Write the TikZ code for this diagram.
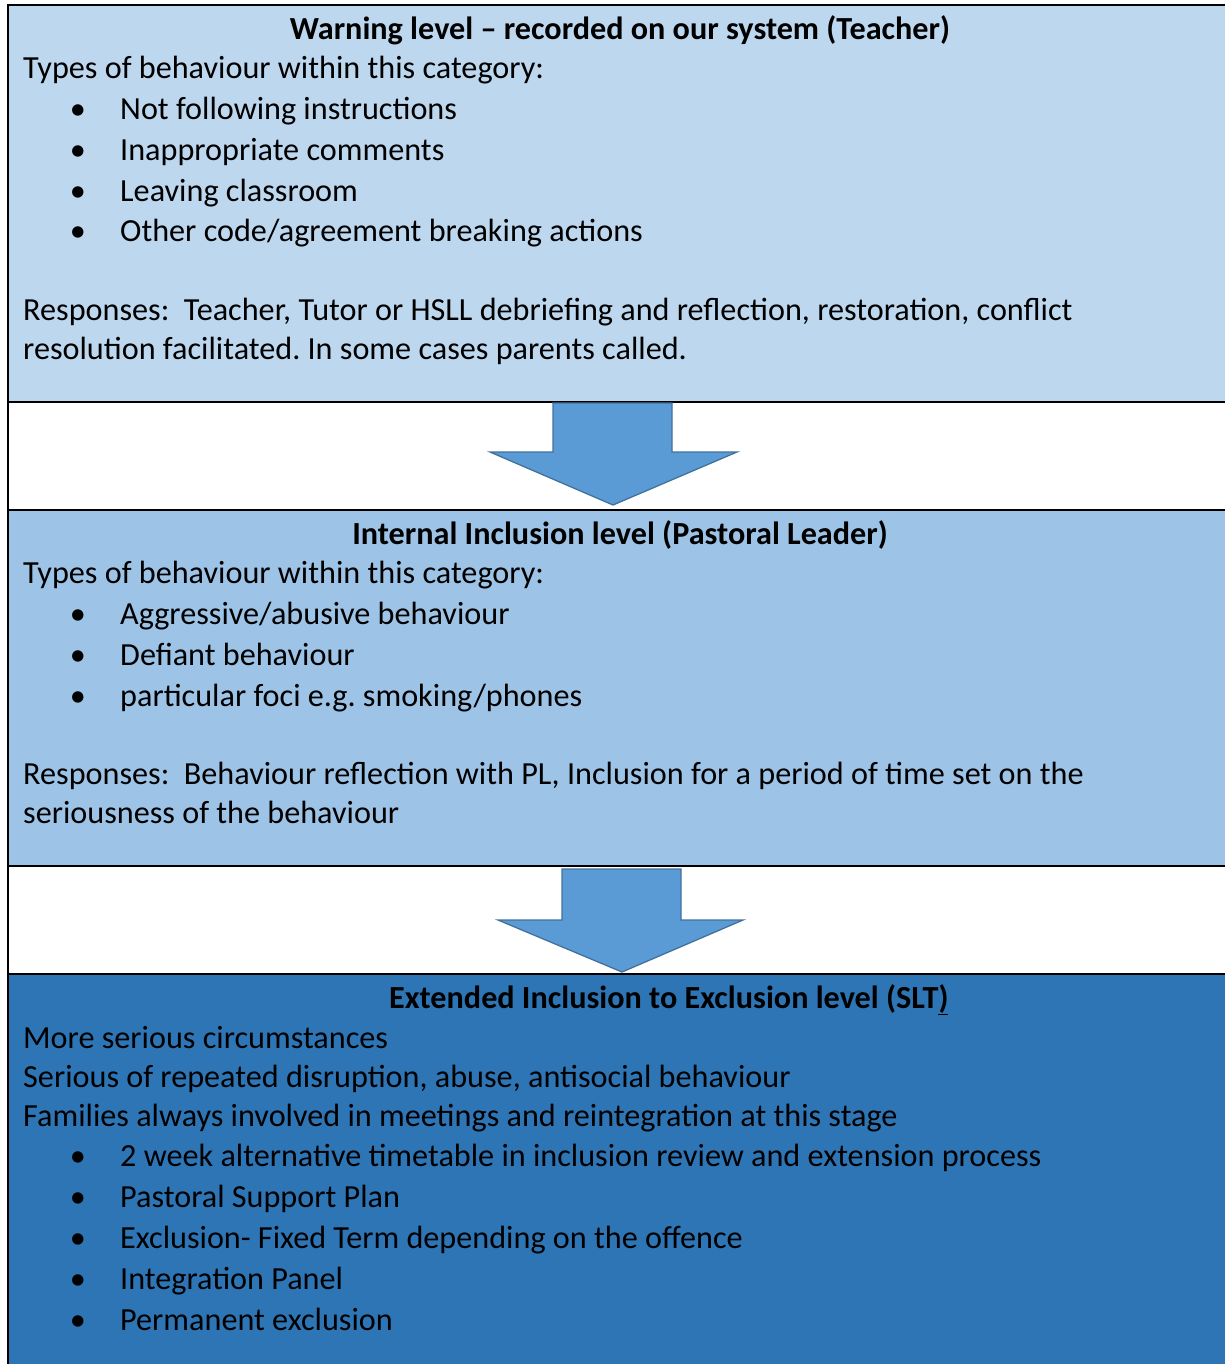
\documentclass[tikz,border=0pt]{standalone}
\usepackage{fontspec}
\setmainfont{Carlito}
\frenchspacing
\definecolor{warnblue}{HTML}{BDD7EE}
\definecolor{inclblue}{HTML}{9DC3E6}
\definecolor{exclblue}{HTML}{2E75B6}
\definecolor{arrowfill}{HTML}{5B9BD5}
\definecolor{arrowline}{HTML}{41719C}

\begin{document}
\begin{tikzpicture}
  [x=1pt,y=-1pt,
   every node/.style={inner sep=0pt,font=\fontsize{32.2}{40.8}\selectfont},
   txt/.style={anchor=base west},
   dot/.style={anchor=base},
   head/.style={anchor=base,font=\fontsize{32.2}{40.8}\selectfont\bfseries},
   blockarrow/.style={fill=arrowfill,draw=arrowline,line width=1.3pt,line join=miter}]
  \useasboundingbox (0,0) rectangle (1225,1364);

  % level boxes
  \fill[warnblue] (8,5) rectangle (1225,402);
  \fill[inclblue] (8,510) rectangle (1225,866);
  \fill[exclblue] (8,974) rectangle (1225,1364);
  \draw[line width=2pt] (8,1364) -- (8,5) -- (1225,5);
  \foreach \y in {402,510,866,974}
    \draw[line width=2pt] (8,\y) -- (1225,\y);

  % arrows between the levels
  \draw[blockarrow] (553,403) -- (672,403) -- (672,452) -- (737,452)
    -- (613,505) -- (490,452) -- (553,452) -- cycle;
  \draw[blockarrow] (562,869) -- (681,869) -- (681,920) -- (743,920)
    -- (622,972) -- (498,920) -- (562,920) -- cycle;

  % warning level
  \node[head] (warn) at (620,40) {Warning level – recorded on our system (Teacher)};
  \node[txt] (warntypes) at (23,79) {Types of behaviour within this category:};
  \foreach \y/\t [count=\i] in {120/Not following instructions,
      161/Inappropriate comments, 202/Leaving classroom,
      242/{Other code/agreement breaking actions}} {
    \node[dot] (warndot\i) at (78,\y) {•};
    \node[txt] (warnitem\i) at (120,\y) {\t};
  }
  \node[txt] (warnresp1) at (23,320) {Responses:\ \ Teacher, Tutor or HSLL debriefing and reflection, restoration, conflict};
  \node[txt] (warnresp2) at (23,359) {resolution facilitated. In some cases parents called.};

  % internal inclusion level
  \node[head] (incl) at (620,544) {Internal Inclusion level (Pastoral Leader)};
  \node[txt] (incltypes) at (23,583) {Types of behaviour within this category:};
  \foreach \y/\t [count=\i] in {624/{Aggressive/abusive behaviour},
      665/Defiant behaviour, 706/{particular foci e.g. smoking/phones}} {
    \node[dot] (incldot\i) at (78,\y) {•};
    \node[txt] (inclitem\i) at (120,\y) {\t};
  }
  \node[txt] (inclresp1) at (23,784) {Responses:\ \ Behaviour reflection with PL, Inclusion for a period of time set on the};
  \node[txt] (inclresp2) at (23,823) {seriousness of the behaviour};

  % extended inclusion to exclusion level
  \node[head,anchor=base west] (excl) at (389,1008) {Extended Inclusion to Exclusion level (SLT\underline{)}};
  \node[txt] (excl1) at (23,1048) {More serious circumstances};
  \node[txt] (excl2) at (23,1087) {Serious of repeated disruption, abuse, antisocial behaviour};
  \node[txt] (excl3) at (23,1126) {Families always involved in meetings and reintegration at this stage};
  \foreach \y/\t [count=\i] in {1166/2 week alternative timetable in inclusion review and extension process,
      1207/Pastoral Support Plan, 1248/Exclusion- Fixed Term depending on the offence,
      1289/Integration Panel, 1330/Permanent exclusion} {
    \node[dot] (excldot\i) at (78,\y) {•};
    \node[txt] (exclitem\i) at (120,\y) {\t};
  }
\end{tikzpicture}
\end{document}
